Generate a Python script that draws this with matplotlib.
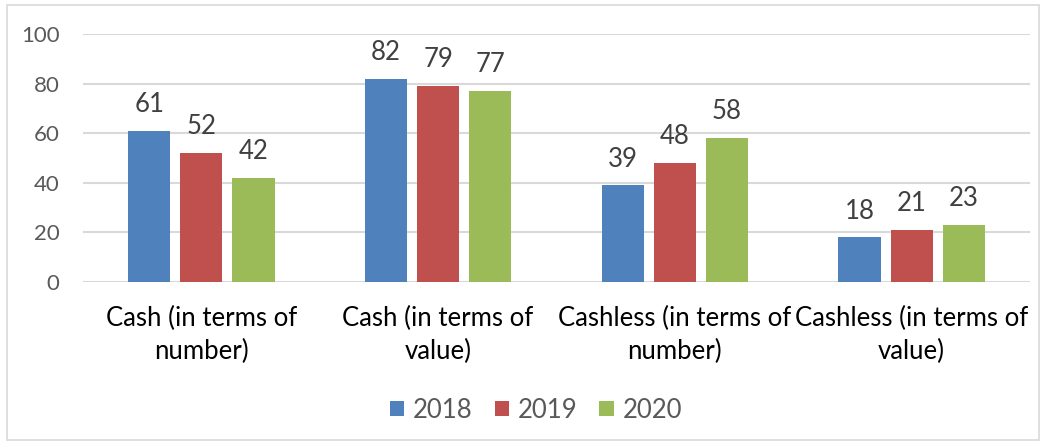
import matplotlib
matplotlib.use("Agg")
import matplotlib.pyplot as plt
import numpy as np
from matplotlib.patches import Rectangle

categories = ["Cash (in terms of\nnumber)", "Cash (in terms of\nvalue)",
              "Cashless (in terms of\nnumber)", "Cashless (in terms of\nvalue)"]
years = ["2018", "2019", "2020"]
v2018 = [61, 82, 39, 18]
v2019 = [52, 79, 48, 21]
v2020 = [42, 77, 58, 23]
yticks = [0, 20, 40, 60, 80, 100]

colors = ["#4F81BD", "#C0504D", "#9BBB59"]
plt.rcParams['font.family'] = ['Lato', 'DejaVu Sans']

fig = plt.figure(figsize=(10.46, 4.48), dpi=100)
fig.patches.append(Rectangle((7/1046, 8/448), 1032/1046, 435/448, transform=fig.transFigure,
                             fill=False, edgecolor="#D9D9D9", linewidth=1.2))
ax = fig.add_axes([83/1046, 1-282/448, (1030-83)/1046, (282-34)/448])

x = np.arange(len(categories))
w = 0.178
step = 0.22
series = [v2018, v2019, v2020]
for i, (vals, c, yr) in enumerate(zip(series, colors, years)):
    pos = x + (i - 1) * step
    ax.bar(pos, vals, width=w, color=c, label=yr, zorder=3)
    for p, v in zip(pos, vals):
        ax.annotate(str(v), (p, v), xytext=(0, 13.5), textcoords="offset points",
                    ha="center", va="baseline", fontsize=18.5, color="#404040")

ax.set_xlim(-0.5, 3.5)
ax.set_ylim(0, 100)
ax.set_yticks(yticks)
ax.set_yticklabels([str(t) for t in yticks], fontsize=16, color="#595959")
ax.tick_params(axis="y", length=0, pad=17)
ax.tick_params(axis="x", length=0, pad=17)
ax.set_xticks(x)
ax.set_xticklabels(categories, fontsize=18.5, color="#000000", linespacing=1.4)
ax.grid(axis="y", color="#D9D9D9", linewidth=1.5, zorder=0)
for s in ax.spines.values():
    s.set_visible(False)

fig.legend(loc="center", bbox_to_anchor=(536/1046, 1-410/448), ncol=3, frameon=False,
           fontsize=18.5, labelcolor="#595959", handlelength=0.55, handleheight=0.55,
           handletextpad=0.35, columnspacing=0.85)

fig.savefig("out.png", dpi=100)
